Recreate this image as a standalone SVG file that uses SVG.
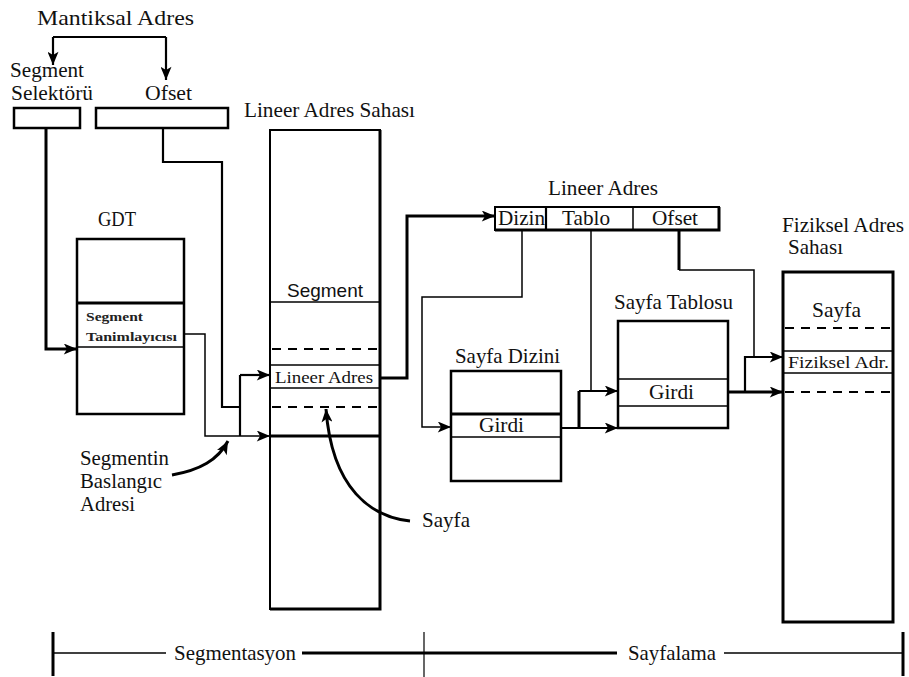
<svg xmlns="http://www.w3.org/2000/svg" width="909" height="677" viewBox="0 0 909 677">
<defs>
<style>
.t{font-family:"Liberation Serif","Times New Roman",serif;font-size:21px;fill:#111}
.s{font-family:"Liberation Sans",Arial,sans-serif;font-size:19px;fill:#111}
.sm{font-family:"Liberation Serif","Times New Roman",serif;font-size:12px;font-weight:bold;fill:#222}
.box{fill:#fff;stroke:#000;stroke-width:2}
.thin{fill:none;stroke:#000;stroke-width:1.5}
.med{fill:none;stroke:#000;stroke-width:2.2}
.thk{fill:none;stroke:#000;stroke-width:3}
.dash{fill:none;stroke:#000;stroke-width:2;stroke-dasharray:9,7}
.arr{marker-end:url(#ah)}
</style>
<marker id="ah" viewBox="0 0 12 10" refX="12" refY="5" markerWidth="14" markerHeight="11" orient="auto" markerUnits="userSpaceOnUse">
<path d="M0,0 L12,5 L0,10 L3,5 z" fill="#000"/>
</marker>
</defs>
<rect width="909" height="677" fill="#fff"/>

<g id="mantiksal-adres">
<text class="t" x="37" y="25" textLength="157" lengthAdjust="spacingAndGlyphs">Mantiksal Adres</text>
</g>

<g id="segment-selektoru">
<text class="t" x="10" y="77" textLength="74" lengthAdjust="spacingAndGlyphs">Segment</text>
<text class="t" x="11" y="100" textLength="82" lengthAdjust="spacingAndGlyphs">Selektörü</text>
<rect class="box" x="14" y="108" width="66" height="20" style="stroke-width:2.5"/>
</g>

<g id="ofset">
<text class="t" x="145" y="100" textLength="47" lengthAdjust="spacingAndGlyphs">Ofset</text>
<rect class="box" x="96" y="108" width="132" height="20" style="stroke-width:2.5"/>
</g>

<g id="gdt">
<text class="t" x="98" y="226" textLength="38" lengthAdjust="spacingAndGlyphs">GDT</text>
<rect class="box" x="77" y="239" width="107" height="175" style="stroke-width:2.5"/>
<line class="thk" x1="77" y1="303" x2="184" y2="303"/>
<line class="thin" x1="77" y1="347" x2="184" y2="347"/>
<text class="sm" x="86" y="321" textLength="57" lengthAdjust="spacingAndGlyphs">Segment</text>
<text class="sm" x="86" y="341" textLength="91" lengthAdjust="spacingAndGlyphs">Tanimlayıcısı</text>
</g>

<g id="lineer-adres-sahasi">
<text class="t" x="244" y="117" textLength="171" lengthAdjust="spacingAndGlyphs">Lineer Adres Sahası</text>
<rect class="box" x="270" y="130" width="110" height="479"/>
<path class="thk" d="M380,130 V609 H270"/>
<text class="s" x="287" y="297" textLength="76" lengthAdjust="spacingAndGlyphs">Segment</text>
<line class="thin" x1="270" y1="302" x2="380" y2="302"/>
<line class="dash" x1="272" y1="349" x2="380" y2="349"/>
<line class="thin" x1="270" y1="365" x2="380" y2="365"/>
<text class="t" x="275" y="383" style="font-size:16px" textLength="98" lengthAdjust="spacingAndGlyphs">Lineer Adres</text>
<line class="thin" x1="270" y1="388" x2="380" y2="388"/>
<line class="dash" x1="272" y1="407" x2="380" y2="407"/>
<line class="thk" x1="270" y1="436" x2="380" y2="436"/>
</g>

<g id="lineer-adres">
<text class="t" x="548" y="195" textLength="110" lengthAdjust="spacingAndGlyphs">Lineer Adres</text>
<rect class="box" x="495" y="207" width="224" height="23"/>
<path class="thk" d="M719,207 V230 H495"/>
<line class="med" x1="546" y1="207" x2="546" y2="230"/>
<line class="thin" x1="633" y1="207" x2="633" y2="230"/>
<text class="t" x="498" y="225" textLength="47" lengthAdjust="spacingAndGlyphs">Dizin</text>
<text class="t" x="562" y="225" textLength="48" lengthAdjust="spacingAndGlyphs">Tablo</text>
<text class="t" x="652" y="225" textLength="46" lengthAdjust="spacingAndGlyphs">Ofset</text>
</g>

<g id="sayfa-dizini">
<text class="t" x="455" y="363" textLength="105" lengthAdjust="spacingAndGlyphs">Sayfa Dizini</text>
<rect class="box" x="451" y="371" width="110" height="110" style="stroke-width:2.5"/>
<line class="thk" x1="451" y1="414" x2="561" y2="414"/>
<line class="thin" x1="451" y1="437" x2="561" y2="437"/>
<text class="t" x="479" y="432" textLength="45" lengthAdjust="spacingAndGlyphs">Girdi</text>
</g>

<g id="sayfa-tablosu">
<text class="t" x="614" y="309" textLength="119" lengthAdjust="spacingAndGlyphs">Sayfa Tablosu</text>
<rect class="box" x="618" y="321" width="110" height="107" style="stroke-width:2.5"/>
<line class="thin" x1="618" y1="379" x2="728" y2="379"/>
<line class="thin" x1="618" y1="406" x2="728" y2="406"/>
<text class="t" x="649" y="399" textLength="45" lengthAdjust="spacingAndGlyphs">Girdi</text>
</g>

<g id="fiziksel-adres-sahasi">
<text class="t" x="782" y="232" textLength="122" lengthAdjust="spacingAndGlyphs">Fiziksel Adres</text>
<text class="t" x="788" y="254" textLength="55" lengthAdjust="spacingAndGlyphs">Sahası</text>
<rect class="box" x="783" y="272" width="110" height="350" style="stroke-width:3"/>
<text class="t" x="812" y="317" textLength="49" lengthAdjust="spacingAndGlyphs">Sayfa</text>
<line class="dash" x1="785" y1="328" x2="891" y2="328"/>
<line class="thin" x1="783" y1="351" x2="893" y2="351"/>
<text class="t" x="788" y="368" style="font-size:16px" textLength="101" lengthAdjust="spacingAndGlyphs">Fiziksel Adr.</text>
<line class="thin" x1="783" y1="373" x2="893" y2="373"/>
<line class="dash" x1="785" y1="392" x2="891" y2="392"/>
</g>

<g id="labels">
<text class="t" x="80" y="465" textLength="89" lengthAdjust="spacingAndGlyphs">Segmentin</text>
<text class="t" x="80" y="488" textLength="82" lengthAdjust="spacingAndGlyphs">Baslangıc</text>
<text class="t" x="80" y="511" textLength="55" lengthAdjust="spacingAndGlyphs">Adresi</text>
<text class="t" x="422" y="527" textLength="48" lengthAdjust="spacingAndGlyphs">Sayfa</text>
</g>

<g id="timeline">
<line x1="53" y1="632" x2="53" y2="676" stroke="#000" stroke-width="3"/>
<line x1="424" y1="632" x2="424" y2="677" stroke="#000" stroke-width="1.2"/>
<line x1="903" y1="632" x2="903" y2="676" stroke="#000" stroke-width="3"/>
<line class="thin" x1="53" y1="653" x2="166" y2="653"/>
<line class="thk" x1="302" y1="653" x2="617" y2="653"/>
<line class="thin" x1="724" y1="653" x2="903" y2="653"/>
<text class="t" x="174" y="660" textLength="122" lengthAdjust="spacingAndGlyphs">Segmentasyon</text>
<text class="t" x="628" y="660" textLength="88" lengthAdjust="spacingAndGlyphs">Sayfalama</text>
</g>

<g id="connectors">
<path class="med" d="M53,37 H166"/>
<path class="med arr" d="M53,37 V65"/>
<path class="med arr" d="M166,37 V80"/>
<path class="thk arr" d="M46,128 V349 H77"/>
<path class="med" d="M163,128 V162 H222 V407 H240"/>
<path class="med" d="M240,436 V375"/>
<path class="med arr" d="M240,375 H270"/>
<path class="thin arr" d="M184,334 H205 V436 H270"/>
<path class="thk arr" d="M380,378 H407 V216 H495"/>
<path class="thk arr" d="M410,521 C372,517 332,490 326,409"/>
<path class="thk arr" d="M172,475 C200,470 218,460 228,441"/>
<path class="thin arr" d="M522,230 V297 H422 V427 H451"/>
<path class="thin" d="M591,230 V391"/>
<path class="med arr" d="M561,428 H618"/>
<path class="thk" d="M579,428 V391"/>
<path class="med arr" d="M579,391 H618"/>
<path class="thk" d="M679,230 V270"/>
<path class="thin" d="M679,270 H754 V357"/>
<path class="thk arr" d="M728,392 H783"/>
<path class="med arr" d="M745,392 V357 H783"/>
</g>
</svg>
